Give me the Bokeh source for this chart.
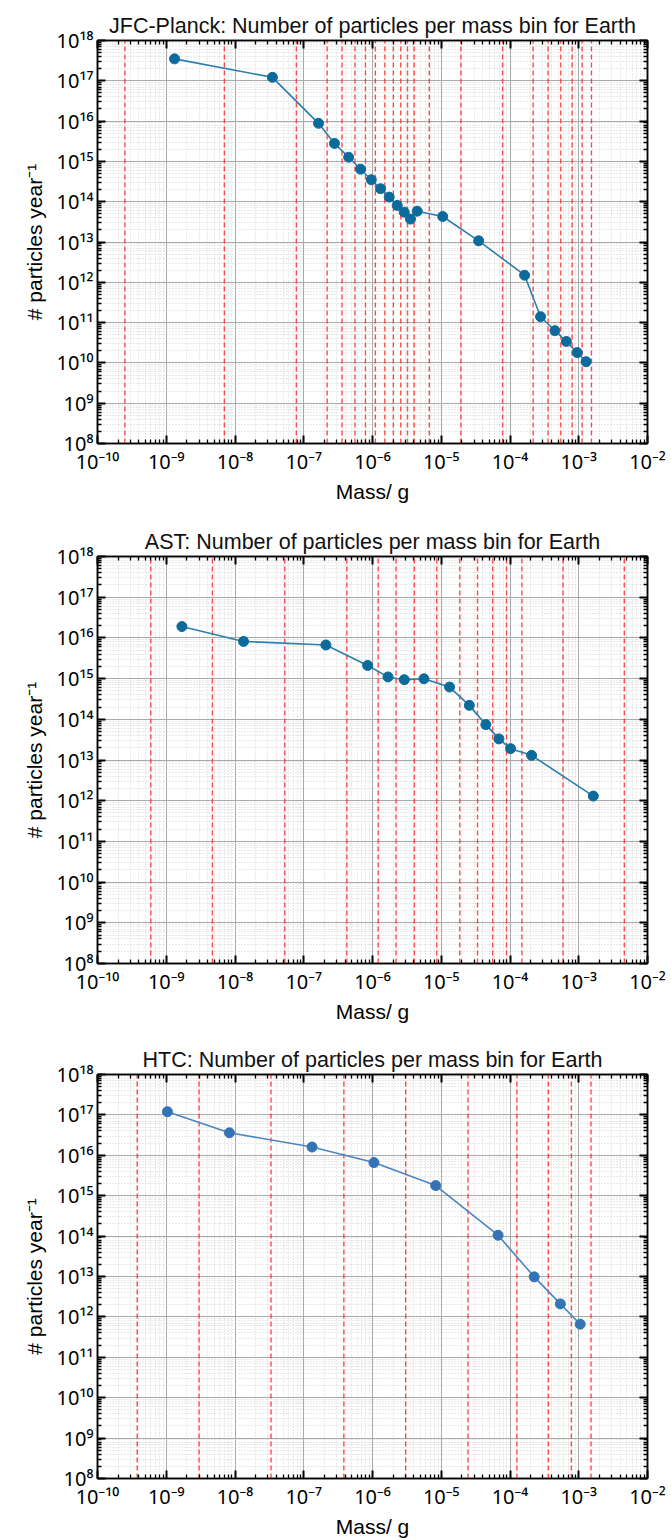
from bokeh.plotting import figure
from bokeh.layouts import column
from bokeh.models import FixedTicker, LogAxis, CustomJSTickFormatter, Range1d
from bokeh.embed import file_html
from bokeh.resources import INLINE

# ---- data: mass bin centres (g), particles per year, bin edges (g) ----
jfc_mass = [1.32e-9, 3.5e-8, 1.64e-7, 2.8e-7, 4.5e-7, 6.7e-7, 9.6e-7, 1.31e-6,
            1.75e-6, 2.29e-6, 2.89e-6, 3.57e-6, 4.47e-6, 1.05e-5, 3.5e-5,
            1.63e-4, 2.78e-4, 4.5e-4, 6.6e-4, 9.5e-4, 1.28e-3]
jfc_count = [3.5e17, 1.22e17, 8.8e15, 2.8e15, 1.27e15, 6.4e14, 3.5e14, 2.1e14,
             1.3e14, 8.1e13, 5.5e13, 3.7e13, 5.8e13, 4.3e13, 1.07e13,
             1.5e12, 1.4e11, 6.3e10, 3.4e10, 1.8e10, 1.07e10]
jfc_edges = [2.5e-10, 7.0e-9, 7.8e-8, 2.19e-7, 3.6e-7, 5.56e-7, 7.9e-7, 1.1e-6,
             1.51e-6, 2.01e-6, 2.58e-6, 3.23e-6, 4.03e-6, 6.7e-6, 1.93e-5,
             7.8e-5, 2.17e-4, 3.58e-4, 5.48e-4, 8.0e-4, 1.12e-3, 1.53e-3]

ast_mass = [1.69e-9, 1.33e-8, 2.1e-7, 8.5e-7, 1.68e-6, 2.9e-6, 5.6e-6, 1.32e-5,
            2.56e-5, 4.45e-5, 6.9e-5, 1.02e-4, 2.06e-4, 1.63e-3]
ast_count = [1.9e16, 8.2e15, 6.7e15, 2.1e15, 1.1e15, 9.4e14, 9.9e14, 6.2e14,
             2.2e14, 7.4e13, 3.3e13, 1.9e13, 1.3e13, 1.3e12]
ast_edges = [5.96e-10, 4.69e-9, 5.3e-8, 4.23e-7, 1.21e-6, 2.2e-6, 4.06e-6,
             8.6e-6, 1.86e-5, 3.37e-5, 5.6e-5, 8.9e-5, 1.49e-4, 5.9e-4, 4.6e-3]

htc_mass = [1.04e-9, 8.3e-9, 1.32e-7, 1.05e-6, 8.3e-6, 6.7e-5, 2.25e-4, 5.4e-4,
            1.05e-3]
htc_count = [1.2e17, 3.6e16, 1.6e16, 6.6e15, 1.78e15, 1.05e14, 9.8e12, 2.1e12,
             6.6e11]
htc_edges = [3.78e-10, 3.0e-9, 3.34e-8, 3.83e-7, 3.04e-6, 2.45e-5, 1.26e-4,
             3.6e-4, 7.8e-4, 1.51e-3]

titles = ["JFC-Planck: Number of particles per mass bin for Earth",
          "AST: Number of particles per mass bin for Earth",
          "HTC: Number of particles per mass bin for Earth"]

# ---- axis ticks ----
x_exps = [-10, -9, -8, -7, -6, -5, -4, -3, -2]
x_labels = ["10⁻¹⁰", "10⁻⁹", "10⁻⁸", "10⁻⁷", "10⁻⁶", "10⁻⁵", "10⁻⁴", "10⁻³", "10⁻²"]
y_exps = [8, 9, 10, 11, 12, 13, 14, 15, 16, 17, 18]
y_labels = ["10⁸", "10⁹", "10¹⁰", "10¹¹", "10¹²", "10¹³", "10¹⁴", "10¹⁵",
            "10¹⁶", "10¹⁷", "10¹⁸"]

FONT = "Liberation Sans"
TICK_FONT = "Noto Sans"


def decade_ticker(exps):
    major = [10.0 ** e for e in exps]
    minor = [m * 10.0 ** e for e in exps[:-1] for m in range(2, 10)]
    return FixedTicker(ticks=major, minor_ticks=minor)


def label_formatter(exps, labels):
    return CustomJSTickFormatter(
        args=dict(exps=exps, labels=labels),
        code="""
        const e = Math.round(Math.log10(tick));
        const i = exps.indexOf(e);
        return i < 0 ? " " : labels[i];
        """)


def style_axis(ax, show_labels):
    ax.axis_line_color = "black"
    ax.axis_line_width = 1.5
    ax.major_tick_in = 8
    ax.major_tick_out = 0
    ax.minor_tick_in = 4
    ax.minor_tick_out = 0
    ax.major_tick_line_color = "black"
    ax.major_tick_line_width = 2
    ax.minor_tick_line_color = "black"
    ax.minor_tick_line_width = 1.3
    ax.major_label_text_font = TICK_FONT
    ax.axis_label_text_font = FONT
    ax.axis_label_text_font_style = "normal"
    ax.axis_label_text_font_size = "21px"
    ax.axis_label_text_color = "black"
    if show_labels:
        ax.major_label_text_color = "black"
        ax.major_label_text_font_size = "20px"
        ax.major_label_standoff = 4
    else:
        ax.major_label_text_color = None
        ax.major_label_text_font_size = "1px"
        ax.major_label_standoff = 0


def make_panel(title, mass, count, edges, height, borders, marker_color, line_color):
    top, bottom, left, right = borders
    p = figure(width=671, height=height, x_axis_type="log", y_axis_type="log",
               x_range=Range1d(1e-10, 1e-2), y_range=Range1d(1e8, 1e18),
               output_backend="svg", toolbar_location=None,
               min_border_top=top, min_border_bottom=bottom,
               min_border_left=left, min_border_right=right)
    p.background_fill_color = "white"
    p.border_fill_color = "white"
    p.outline_line_color = "black"
    p.outline_line_width = 1.5

    p.title.text = title
    p.title.text_font = FONT
    p.title.text_font_size = "21.5px"
    p.title.text_font_style = "normal"
    p.title.text_color = "#111111"
    p.title.align = "center"
    p.title.standoff = 5

    xt = decade_ticker(x_exps)
    yt = decade_ticker(y_exps)
    p.xaxis.ticker = xt
    p.yaxis.ticker = yt
    p.xaxis.formatter = label_formatter(x_exps, x_labels)
    p.yaxis.formatter = label_formatter(y_exps, y_labels)
    p.xaxis.axis_label = "Mass/ g"
    p.yaxis.axis_label = "# particles year⁻¹"
    p.xaxis.axis_label_standoff = 2
    p.yaxis.axis_label_standoff = 8
    style_axis(p.xaxis[0], True)
    style_axis(p.yaxis[0], True)

    top_ax = LogAxis(ticker=xt, formatter=label_formatter(x_exps, x_labels))
    right_ax = LogAxis(ticker=yt, formatter=label_formatter(y_exps, y_labels))
    style_axis(top_ax, False)
    style_axis(right_ax, False)
    p.add_layout(top_ax, "above")
    p.add_layout(right_ax, "right")

    for g in (p.xgrid[0], p.ygrid[0]):
        g.grid_line_color = "#a9a9a9"
        g.grid_line_width = 1
        g.minor_grid_line_color = "#d2d2d2"
        g.minor_grid_line_width = 1
        g.minor_grid_line_dash = "1 2"

    # bin edges
    p.segment(x0=edges, x1=edges, y0=[1e8] * len(edges), y1=[1e18] * len(edges),
              line_color="#ff2a2a", line_alpha=0.85, line_width=1.4,
              line_dash="5 3")

    p.line(mass, count, line_color=line_color, line_width=1.6)
    p.scatter(mass, count, size=10, fill_color=marker_color,
              line_color=marker_color)
    return p


p1 = make_panel(titles[0], jfc_mass, jfc_count, jfc_edges, 518,
                (40, 75, 97, 24), "#0d6b9b", "#2a7fae")
p2 = make_panel(titles[1], ast_mass, ast_count, ast_edges, 518,
                (38, 73, 94, 22), "#0d6b9b", "#2a7fae")
p3 = make_panel(titles[2], htc_mass, htc_count, htc_edges, 504,
                (38, 56, 93, 21), "#3473b4", "#4a85c2")

layout = column(p1, p2, p3, spacing=0)

open("out.html", "w").write(file_html(layout, INLINE))
